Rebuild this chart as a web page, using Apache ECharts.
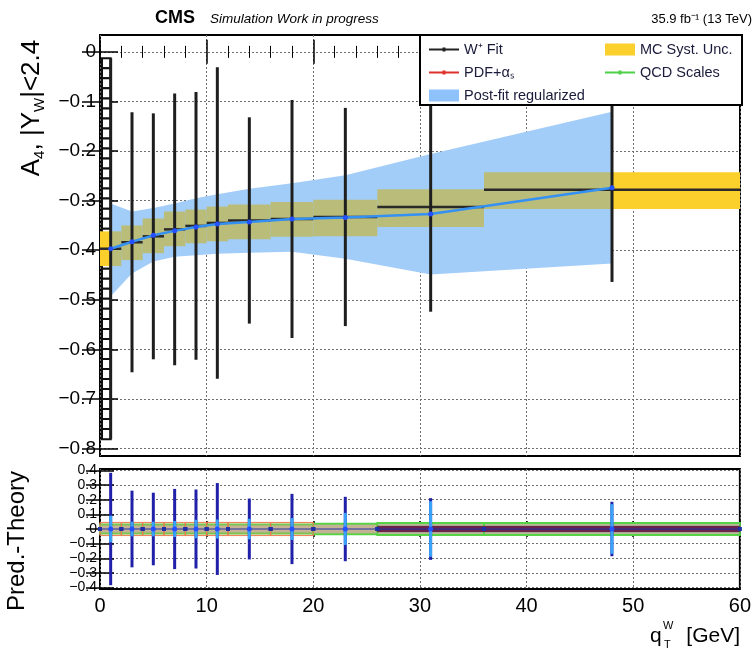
<!DOCTYPE html>
<html>
<head>
<meta charset="utf-8">
<script src="https://cdn.jsdelivr.net/npm/echarts@6/dist/echarts.min.js"></script>
<style>
html, body { margin: 0; padding: 0; background: #fff; }
#main { width: 754px; height: 653px; }
</style>
</head>
<body>
<div id="main"></div>
<script>
// bins in q_T (GeV)
var binLo = [0, 2, 4, 6, 8, 10, 12, 16, 20, 26, 36];
var binHi = [2, 4, 6, 8, 10, 12, 16, 20, 26, 36, 60];
var binCenter = [1, 3, 5, 7, 9, 11, 14, 18, 23, 31, 48];

// W+ fit
var fitValue = [-0.397, -0.384, -0.372, -0.358, -0.351, -0.345, -0.340, -0.337, -0.333, -0.313, -0.278];
var fitError = [0.384, 0.262, 0.248, 0.274, 0.270, 0.314, 0.208, 0.240, 0.220, 0.211, 0.186];

// post-fit regularized
var postValue = [-0.397, -0.383, -0.370, -0.361, -0.353, -0.347, -0.343, -0.337, -0.334, -0.327, -0.274];
var postUp = [-0.306, -0.322, -0.315, -0.306, -0.295, -0.287, -0.276, -0.265, -0.249, -0.206, -0.121];
var postDown = [-0.493, -0.447, -0.423, -0.413, -0.410, -0.407, -0.405, -0.403, -0.417, -0.449, -0.427];

// MC syst. band
var mcCenter = [-0.397, -0.385, -0.371, -0.357, -0.352, -0.347, -0.343, -0.338, -0.335, -0.315, -0.280];
var mcHalf = [0.035, 0.035, 0.035, 0.035, 0.034, 0.035, 0.035, 0.035, 0.037, 0.038, 0.037];

// lower panel (pred. - theory)
var postDiffErr = [0.091, 0.05, 0.05, 0.055, 0.063, 0.065, 0.07, 0.075, 0.11, 0.19, 0.17];
var pdfHalf = [0.045, 0.045, 0.045, 0.045, 0.045, 0.045, 0.045, 0.045, 0.03, 0.018, 0.018];
var qcdHalf = [0.03, 0.03, 0.03, 0.03, 0.03, 0.03, 0.03, 0.03, 0.036, 0.041, 0.041];

var yTicksMain = [0, -0.1, -0.2, -0.3, -0.4, -0.5, -0.6, -0.7, -0.8];
var yTicksLow = [0.4, 0.3, 0.2, 0.1, 0, -0.1, -0.2, -0.3, -0.4];

var FONT = 'Liberation Sans, Arial, Helvetica, sans-serif';
var myChart = echarts.init(document.getElementById('main'));

function fmt(v) {
    if (Math.abs(v) < 1e-9) return '0';
    return v.toFixed(1).replace('-', '\u2212');
}

function box(api, x0, x1, y0, y1) {
    var a = api.coord([x0, y1]);
    var b = api.coord([x1, y0]);
    return { x: a[0], y: a[1], width: b[0] - a[0], height: b[1] - a[1] };
}

function seg(api, x0, y0, x1, y1) {
    var a = api.coord([x0, y0]);
    var b = api.coord([x1, y1]);
    return { x1: a[0], y1: a[1], x2: b[0], y2: b[1] };
}

var bandStart = binCenter[0];
var bandEnd = binCenter[binCenter.length - 1];

var mcData = [], fitData = [], lowData = [];
for (var i = 0; i < binLo.length; i++) {
    mcData.push([binLo[i], binHi[i], mcCenter[i], mcHalf[i]]);
    fitData.push([binCenter[i], fitValue[i], fitError[i], binLo[i], binHi[i]]);
    lowData.push([binCenter[i], 0, fitError[i], binLo[i], binHi[i], postDiffErr[i], pdfHalf[i], qcdHalf[i]]);
}

var lineDotIcon = 'path://M0,5h13.5v-1h3v1h13.5v2h-13.5v1h-3v-1h-13.5z';

function xAxisCfg(grid, pos, labels) {
    return {
        type: 'value', gridIndex: grid, position: pos, min: 0, max: 60, interval: 10,
        axisLine: { show: false },
        axisTick: { inside: true, length: grid === 0 ? 12 : 8, lineStyle: { color: '#000', width: 1.5 } },
        minorTick: { show: true, splitNumber: 5, length: grid === 0 ? 6 : 4, lineStyle: { color: '#000' } },
        axisLabel: { show: labels, fontSize: 20, color: '#000', fontFamily: FONT, margin: 7 },
        splitLine: { show: pos === 'bottom', lineStyle: { color: '#6f6f6f', type: [2, 2] } }
    };
}

function yAxisCfg(grid, pos, ticks, min, max, labels) {
    return {
        type: 'value', gridIndex: grid, position: pos, min: min, max: max,
        axisLine: { show: false },
        axisTick: { inside: true, length: grid === 0 ? 18 : 14, customValues: ticks, lineStyle: { color: '#000', width: 1.5 } },
        axisLabel: { show: labels, customValues: ticks, formatter: fmt, fontSize: grid === 0 ? 19 : 14,
                     showMinLabel: true, showMaxLabel: true, hideOverlap: false,
                     color: '#000', fontFamily: FONT, margin: grid === 0 ? 4 : 3 },
        splitLine: { show: pos === 'left', lineStyle: { color: '#6f6f6f', type: [2, 2] } }
    };
}

option = {
    animation: false,
    grid: [
        { left: 100, top: 35, width: 640, height: 421, show: true, borderColor: '#000', borderWidth: 2, backgroundColor: '#fff' },
        { left: 100, top: 469, width: 640, height: 120, show: true, borderColor: '#000', borderWidth: 2, backgroundColor: '#fff' }
    ],
    xAxis: [
        xAxisCfg(0, 'bottom', false),
        xAxisCfg(0, 'top', false),
        xAxisCfg(1, 'bottom', true),
        xAxisCfg(1, 'top', false)
    ],
    yAxis: [
        yAxisCfg(0, 'left', yTicksMain, -0.815, 0.034, true),
        yAxisCfg(0, 'right', yTicksMain, -0.815, 0.034, false),
        yAxisCfg(1, 'left', yTicksLow, -0.41, 0.41, true),
        yAxisCfg(1, 'right', yTicksLow, -0.41, 0.41, false)
    ],
    legend: [
        {
            left: 424, top: 37, orient: 'vertical', itemGap: 8, itemWidth: 30, itemHeight: 12,
            selectedMode: false, z: 10,
            textStyle: { fontSize: 14.5, color: '#1a1a3a', fontFamily: FONT },
            data: [
                { name: 'W\u207a Fit', icon: lineDotIcon, itemStyle: { color: '#222' } },
                { name: 'PDF+\u03b1\u209b', icon: lineDotIcon, itemStyle: { color: '#e0302a' } },
                { name: 'Post-fit regularized', icon: 'rect', itemStyle: { color: '#8fc2fa' } }
            ]
        },
        {
            left: 600, top: 37, orient: 'vertical', itemGap: 8, itemWidth: 30, itemHeight: 12,
            selectedMode: false, z: 10,
            textStyle: { fontSize: 14.5, color: '#1a1a3a', fontFamily: FONT },
            data: [
                { name: 'MC Syst. Unc.', icon: 'rect', itemStyle: { color: '#fbcf2c' } },
                { name: 'QCD Scales', icon: lineDotIcon, itemStyle: { color: '#4fd04a' } }
            ]
        }
    ],
    graphic: [
        { type: 'rect', z: 5, shape: { x: 420, y: 35, width: 322, height: 70 },
          style: { fill: '#fff', stroke: '#000', lineWidth: 2 } },
        { type: 'text', x: 155, y: 18, style: { text: 'CMS', font: 'bold 18px ' + FONT, fill: '#000', verticalAlign: 'middle' } },
        { type: 'text', x: 210, y: 19, style: { text: 'Simulation Work in progress', font: 'italic 13.5px ' + FONT, fill: '#000', verticalAlign: 'middle' } },
        { type: 'text', x: 752, y: 19, style: { text: '35.9 fb\u207b\u00b9 (13 TeV)', font: '13px ' + FONT, fill: '#000', align: 'right', verticalAlign: 'middle' } },
        { type: 'text', x: 32, y: 108, rotation: Math.PI / 2,
          style: { text: 'A{s|4}, |Y{s|W}|<2.4', font: '26px ' + FONT, fill: '#000', align: 'center', verticalAlign: 'middle',
                   lineHeight: 30, rich: { s: { fontSize: 15, verticalAlign: 'bottom', lineHeight: 30, fontFamily: FONT } } } },
        { type: 'text', x: 17, y: 541, rotation: Math.PI / 2,
          style: { text: 'Pred.-Theory', font: '24px ' + FONT, fill: '#000', align: 'center', verticalAlign: 'middle' } },
        { type: 'text', x: 650, y: 636, style: { text: 'q', font: '21px ' + FONT, fill: '#000', verticalAlign: 'middle' } },
        { type: 'text', x: 663, y: 626, style: { text: 'W', font: '11px ' + FONT, fill: '#000', verticalAlign: 'middle' } },
        { type: 'text', x: 664, y: 645, style: { text: 'T', font: '11px ' + FONT, fill: '#000', verticalAlign: 'middle' } },
        { type: 'text', x: 740, y: 636, style: { text: '[GeV]', font: '21px ' + FONT, fill: '#000', align: 'right', verticalAlign: 'middle' } }
    ],
    series: [
        {
            // post-fit band
            name: 'Post-fit regularized', type: 'custom', xAxisIndex: 0, yAxisIndex: 0, z: 1,
            data: [[bandStart, postValue[0]]],
            renderItem: function (params, api) {
                var pts = [];
                for (var k = 0; k < binCenter.length; k++) pts.push(api.coord([binCenter[k], postUp[k]]));
                for (var k = binCenter.length - 1; k >= 0; k--) pts.push(api.coord([binCenter[k], postDown[k]]));
                return { type: 'polygon', shape: { points: pts }, style: { fill: '#a3cdf9' } };
            }
        },
        {
            name: 'MC Syst. Unc.', type: 'custom', xAxisIndex: 0, yAxisIndex: 0, z: 2,
            data: mcData,
            renderItem: function (params, api) {
                var x0 = api.value(0), x1 = api.value(1), c = api.value(2), h = api.value(3);
                var parts = [];
                var pieces = [
                    [x0, Math.min(x1, bandStart), '#fbcf2c'],
                    [Math.max(x0, bandStart), Math.min(x1, bandEnd), '#b9bd79'],
                    [Math.max(x0, bandEnd), x1, '#fbcf2c']
                ];
                pieces.forEach(function (p) {
                    if (p[1] > p[0]) parts.push({ type: 'rect', shape: box(api, p[0], p[1], c - h, c + h), style: { fill: p[2] } });
                });
                return { type: 'group', children: parts };
            }
        },
        {
            // first bin drawn as a ladder of small boxes
            name: 'W\u207a Fit', type: 'custom', xAxisIndex: 0, yAxisIndex: 0, z: 1,
            data: [[binLo[0], binCenter[0], fitValue[0] - fitError[0], fitValue[0] + fitError[0]]],
            renderItem: function (params, api) {
                var r = box(api, api.value(0), api.value(1), api.value(2), api.value(3));
                var n = Math.round(r.height / 10);
                var hh = r.height / n;
                var kids = [];
                for (var k = 0; k < n; k++) {
                    kids.push({ type: 'rect', shape: { x: r.x + 2, y: r.y + k * hh, width: r.width - 2, height: hh },
                                style: { fill: '#fff', stroke: '#111', lineWidth: 2 } });
                }
                return { type: 'group', children: kids };
            }
        },
        {
            name: 'W\u207a Fit', type: 'custom', xAxisIndex: 0, yAxisIndex: 0, z: 3,
            data: fitData,
            renderItem: function (params, api) {
                var x = api.value(0), v = api.value(1), e = api.value(2);
                return {
                    type: 'group', children: [
                        { type: 'line', shape: seg(api, api.value(3), v, api.value(4), v), style: { stroke: '#2a2a2a', lineWidth: 2.5 } },
                        { type: 'line', shape: seg(api, x, v - e, x, v + e), style: { stroke: '#1e1e1e', lineWidth: 3 } }
                    ]
                };
            }
        },
        {
            name: 'Post-fit regularized', type: 'line', xAxisIndex: 0, yAxisIndex: 0, z: 4,
            data: binCenter.map(function (x, k) { return [x, postValue[k]]; }),
            lineStyle: { color: '#3590f3', width: 2.5 },
            itemStyle: { color: '#2450ff' },
            symbol: 'circle', symbolSize: 5
        },
        // lower panel
        {
            name: 'QCD Scales', type: 'custom', xAxisIndex: 2, yAxisIndex: 2, z: 1,
            data: lowData,
            renderItem: function (params, api) {
                var q = api.value(7);
                return { type: 'rect', shape: box(api, api.value(3), api.value(4), -q, q),
                         style: { fill: '#b9b99c', stroke: '#56d445', lineWidth: 2 } };
            }
        },
        {
            name: 'PDF+\u03b1\u209b', type: 'custom', xAxisIndex: 2, yAxisIndex: 2, z: 2,
            data: lowData,
            renderItem: function (params, api) {
                var p = api.value(6);
                var dark = p < 0.025;
                return { type: 'rect', shape: box(api, api.value(3), api.value(4), -p, p),
                         style: { fill: dark ? '#6a2248' : 'rgba(240,150,120,0.22)', stroke: dark ? '#6a2248' : (p > api.value(7) ? '#ee7a50' : 'rgba(0,0,0,0)'), lineWidth: 1 } };
            }
        },
        {
            name: 'W\u207a Fit', type: 'custom', xAxisIndex: 2, yAxisIndex: 2, z: 3,
            data: lowData,
            renderItem: function (params, api) {
                var x = api.value(0), e = api.value(2);
                var a = api.coord([api.value(3), 0]), b = api.coord([api.value(4), 0]);
                return {
                    type: 'group', children: [
                        { type: 'line', shape: seg(api, api.value(3), 0, api.value(4), 0), style: { stroke: '#2030a8', lineWidth: 1 } },
                        { type: 'rect', shape: { x: a[0] - 2, y: a[1] - 2, width: 4, height: 4 }, style: { fill: '#2030a8' } },
                        { type: 'rect', shape: { x: b[0] - 2, y: b[1] - 2, width: 4, height: 4 }, style: { fill: '#2030a8' } },
                        { type: 'line', shape: seg(api, x, -e, x, e), style: { stroke: '#2020a8', lineWidth: 3 } }
                    ]
                };
            }
        },
        {
            name: 'Post-fit regularized', type: 'custom', xAxisIndex: 2, yAxisIndex: 2, z: 4,
            data: lowData,
            renderItem: function (params, api) {
                var x = api.value(0), e = api.value(5);
                var c = api.coord([x, 0]);
                return {
                    type: 'group', children: [
                        { type: 'line', shape: seg(api, x, -e, x, e), style: { stroke: '#3aa2f7', lineWidth: 3 } },
                        { type: 'circle', shape: { cx: c[0], cy: c[1], r: 2.5 }, style: { fill: '#2450ff' } }
                    ]
                };
            }
        }
    ]
};

myChart.setOption(option);
</script>
</body>
</html>
